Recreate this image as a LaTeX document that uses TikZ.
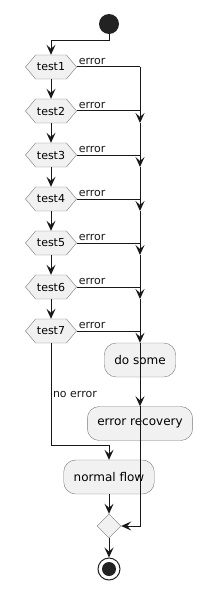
\documentclass[tikz,border=0pt]{standalone}
\usepackage{fontspec}
\setmainfont{DejaVu Sans}
\usetikzlibrary{arrows.meta,positioning,shapes.geometric,shapes.symbols}
\definecolor{ActFill}{HTML}{F1F1F1}
\definecolor{ActBorder}{HTML}{7A7A7A}
\definecolor{ActLine}{HTML}{181818}
\definecolor{ActDark}{HTML}{222222}

\begin{document}
\begin{tikzpicture}[x=1pt,y=-1pt,
    testbox/.style={
      signal,
      signal to=east and west,
      signal pointer angle=100,
      draw=ActBorder,
      fill=ActFill,
      minimum width=51pt,
      minimum height=24pt,
      inner sep=0pt,
      font=\fontsize{11}{13}\selectfont
    },
    actbox/.style={
      draw=ActBorder,
      fill=ActFill,
      rounded corners=12pt,
      minimum height=34pt,
      inner xsep=10pt,
      font=\fontsize{12}{14}\selectfont
    },
    joinbox/.style={
      diamond,
      draw=ActBorder,
      fill=ActFill,
      minimum width=24pt,
      minimum height=24pt,
      inner sep=0pt
    },
    lbl/.style={
      font=\fontsize{11}{13}\selectfont,
      inner sep=1.5pt
    },
    flow/.style={
      -{Stealth[length=10pt,width=9pt,inset=4pt]},
      line width=1pt,
      color=ActLine
    },
    wire/.style={
      line width=1pt,
      color=ActLine
    }
  ]
  \useasboundingbox (0,0) rectangle (212,599);

  % start
  \node[circle, fill=ActDark, minimum size=20pt, inner sep=0pt] (start) at (109,24) {};

  % test chain (left)
  \foreach \i in {1,...,7} {
    \node[testbox] (test\i) at (51,{67+44*(\i-1)}) {test\i};
    \coordinate (m\i) at (140,{67+44*(\i-1)});
    \coordinate (a\i) at (140,{79+44*(\i-1)});
  }

  % actions
  \node[actbox] (dosome)  at (140,360)   {do some};
  \node[actbox] (recover) at (140,423.5) {error recovery};
  \node[actbox] (normal)  at (109,477)   {normal flow};
  \node[joinbox] (join)   at (109,526)   {};

  % stop
  \node[circle, draw=ActDark, line width=1pt, fill=white, minimum size=22pt, inner sep=0pt] (stop) at (109,569) {};
  \node[circle, fill=ActDark, minimum size=14pt, inner sep=0pt] (stopdot) at (stop.center) {};

  \draw[flow] (start.south) -- ++(0,6) -| (test1.north);
  \foreach \i in {1,...,6} {
    \pgfmathtruncatemacro\j{\i+1}
    \draw[flow] (test\i.south) -- (test\j.north);
  }

  % error branches (right)
  \foreach \i in {1,...,7}
    \draw[wire] (test\i.east) -- node[lbl, anchor=south west, pos=0] {error} (m\i);
  \draw[flow] (m1) -- (a2);
  \foreach \i in {2,...,5} {
    \pgfmathtruncatemacro\j{\i+1}
    \draw[flow] (a\i) -- (a\j);
  }
  \draw[flow] (a6) -- (dosome.north);
  \draw[wire] (dosome.north) -- (dosome.south);
  \draw[flow] (dosome.south) -- (recover.north);
  \draw[flow] (recover.north) |- (join.east);

  % no error branch
  \draw[flow] (test7.south) -- node[lbl, anchor=west, pos=0.5] {no error} ++(0,102) -| (normal.north);
  \draw[flow] (normal.south) -- (join.north);
  \draw[flow] (join.south) -- (stop.north);

\end{tikzpicture}
\end{document}
